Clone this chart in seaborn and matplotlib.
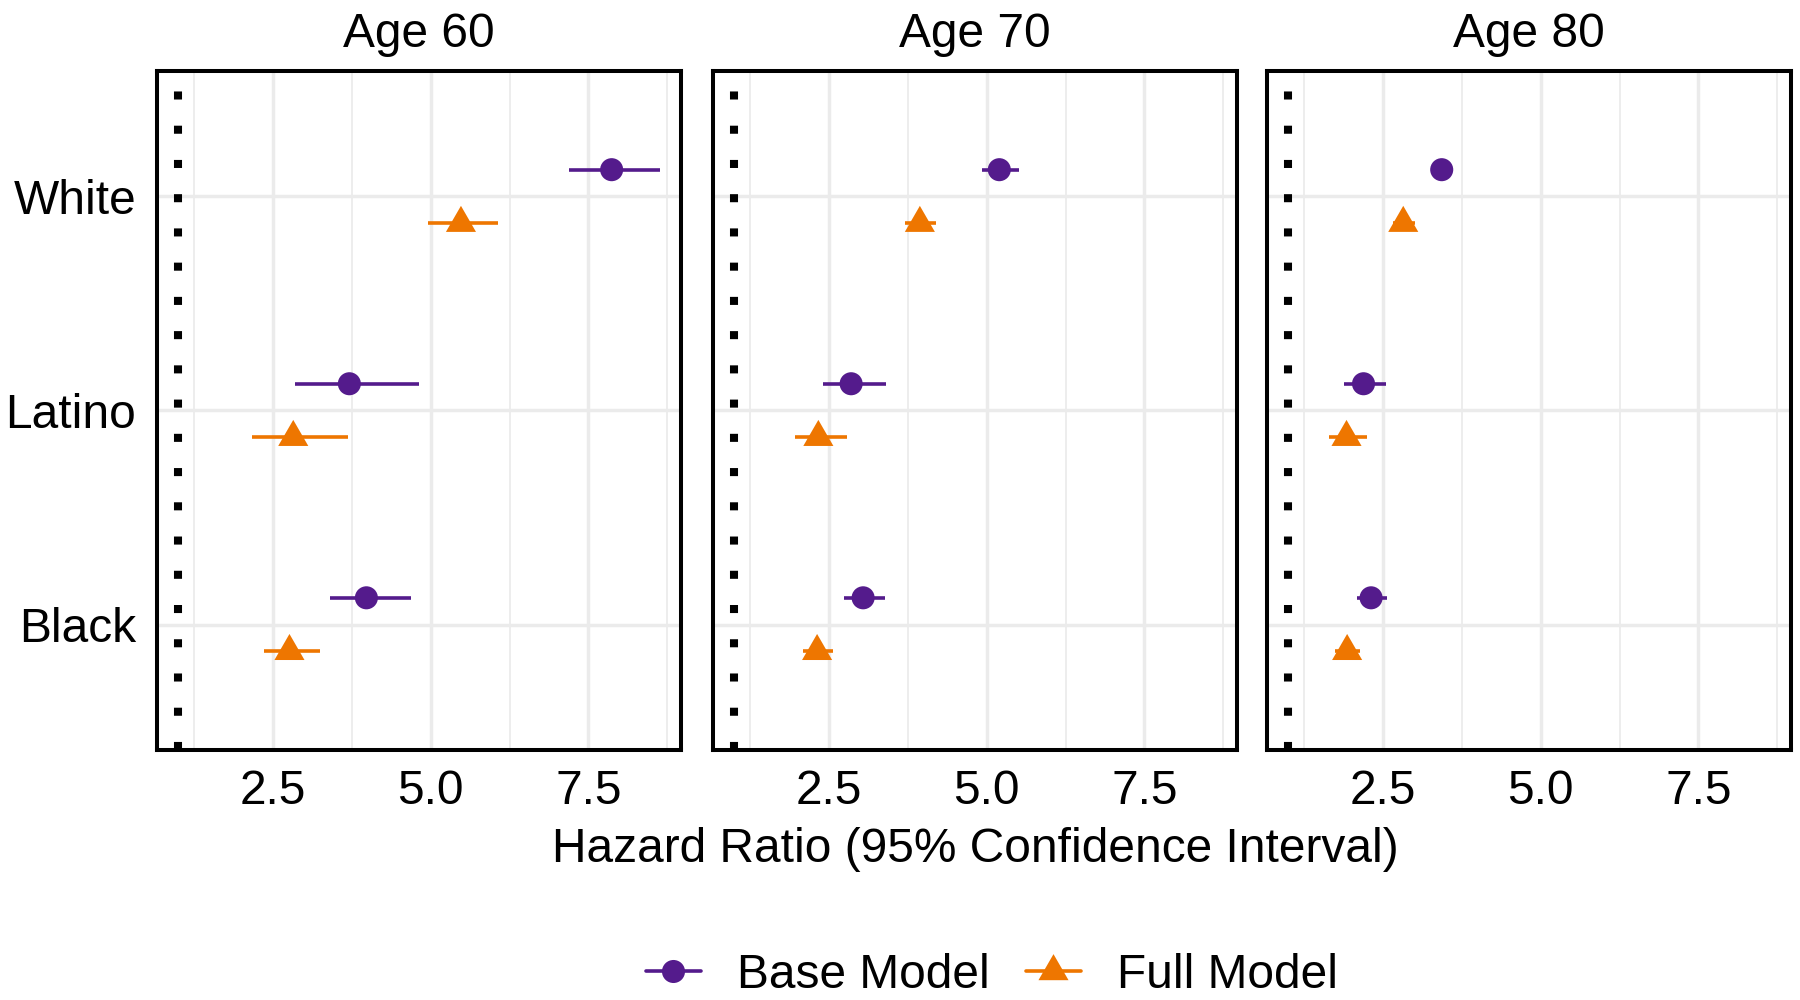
import numpy as np
import pandas as pd
import matplotlib
matplotlib.use("Agg")
import matplotlib.pyplot as plt
from matplotlib.lines import Line2D
from matplotlib.markers import MarkerStyle
from matplotlib.ticker import FixedLocator
import seaborn as sns

# ---------------- data ----------------
panels = ["Age 60", "Age 70", "Age 80"]
groups = ["White", "Latino", "Black"]
models = ["Base Model", "Full Model"]

base_hr_60 = [7.87, 3.71, 3.98]
base_lo_60 = [7.19, 2.85, 3.41]
base_hi_60 = [8.64, 4.82, 4.68]
full_hr_60 = [5.48, 2.82, 2.76]
full_lo_60 = [4.96, 2.16, 2.35]
full_hi_60 = [6.06, 3.69, 3.24]

base_hr_70 = [5.20, 2.85, 3.04]
base_lo_70 = [4.92, 2.40, 2.74]
base_hi_70 = [5.52, 3.40, 3.38]
full_hr_70 = [3.94, 2.33, 2.31]
full_lo_70 = [3.70, 1.96, 2.08]
full_hi_70 = [4.20, 2.79, 2.57]

base_hr_80 = [3.43, 2.19, 2.31]
base_lo_80 = [3.30, 1.88, 2.09]
base_hi_80 = [3.56, 2.55, 2.56]
full_hr_80 = [2.82, 1.92, 1.93]
full_lo_80 = [2.65, 1.65, 1.73]
full_hi_80 = [3.00, 2.24, 2.14]

x_major = [2.5, 5.0, 7.5]
x_minor = [1.25, 3.75, 6.25, 8.75]
x_labels = ["2.5", "5.0", "7.5"]
ref_line = 1.0

# build long table
rows = []
tables = {
    "Age 60": (base_hr_60, base_lo_60, base_hi_60, full_hr_60, full_lo_60, full_hi_60),
    "Age 70": (base_hr_70, base_lo_70, base_hi_70, full_hr_70, full_lo_70, full_hi_70),
    "Age 80": (base_hr_80, base_lo_80, base_hi_80, full_hr_80, full_lo_80, full_hi_80),
}
for p in panels:
    bh, bl, bu, fh, fl, fu = tables[p]
    for i, g in enumerate(groups):
        rows.append(dict(panel=p, group=g, model="Base Model", hr=bh[i], lo=bl[i], hi=bu[i]))
        rows.append(dict(panel=p, group=g, model="Full Model", hr=fh[i], lo=fl[i], hi=fu[i]))
df = pd.DataFrame(rows)

# ---------------- style ----------------
sns.set_theme(style="white")
plt.rcParams["font.family"] = ["Liberation Sans", "DejaVu Sans"]
plt.rcParams["text.color"] = "black"

PURPLE = "#541B8C"
ORANGE = "#EE7600"
colors = {"Base Model": PURPLE, "Full Model": ORANGE}
tri_verts = [(0.0, 0.577), (-0.5, -0.289), (0.5, -0.289), (0.0, 0.577)]
TRI = MarkerStyle(tri_verts)
markers = {"Base Model": "o", "Full Model": TRI}
sizes = {"Base Model": 16.6 ** 2, "Full Model": 25.0 ** 2}
offsets = {"Base Model": 0.125, "Full Model": -0.125}
group_pos = {"White": 3, "Latino": 2, "Black": 1}

df["ypos"] = df["group"].map(group_pos) + df["model"].map(offsets)

FS = 34.5
fig = plt.figure(figsize=(18, 10), dpi=100)
lefts = [157, 713, 1267]
pw = 524
bottom = 1 - 750 / 1000
height = (750 - 71) / 1000

axes = []
for k, p in enumerate(panels):
    ax = fig.add_axes([lefts[k] / 1800, bottom, pw / 1800, height])
    axes.append(ax)
    sub = df[df["panel"] == p]

    ax.set_xlim(0.659, 8.97)
    ax.set_ylim(0.414, 3.586)
    ax.xaxis.set_major_locator(FixedLocator(x_major))
    ax.xaxis.set_minor_locator(FixedLocator(x_minor))
    ax.set_xticklabels(x_labels)
    ax.set_yticks([group_pos[g] for g in groups])
    if k == 0:
        ax.set_yticklabels(groups)
    else:
        ax.set_yticklabels([])
    ax.grid(True, which="major", color="#EBEBEB", lw=2.5, zorder=0)
    ax.grid(True, which="minor", axis="x", color="#EBEBEB", lw=1.25, zorder=0)
    ax.set_axisbelow(True)
    ax.tick_params(axis="both", which="both", length=0, labelsize=FS, colors="black")
    ax.tick_params(axis="x", pad=14)
    ax.tick_params(axis="y", pad=15)

    ax.axvline(ref_line, color="black", lw=5.8, linestyle=(0, (1, 3.25)),
               dash_capstyle="butt", zorder=2)

    for m in models:
        sm = sub[sub["model"] == m]
        ax.hlines(sm["ypos"], sm["lo"], sm["hi"], color=colors[m], lw=2.6, zorder=3)
        sns.scatterplot(data=sm, x="hr", y="ypos", color=colors[m], marker=markers[m],
                        s=sizes[m], edgecolor="none", linewidth=0, ax=ax,
                        legend=False, zorder=4)

    ax.set_xlabel("")
    ax.set_ylabel("")
    ax.set_title(p, fontsize=FS, pad=17, color="black")
    for sp in ax.spines.values():
        sp.set_visible(True)
        sp.set_color("black")
        sp.set_linewidth(2.9)

axes[1].set_xlabel("Hazard Ratio (95% Confidence Interval)", fontsize=FS, labelpad=9,
                   color="black")

handles = [
    Line2D([], [], color=PURPLE, lw=2.6, marker="o", ms=16.6, markeredgewidth=0),
    Line2D([], [], color=ORANGE, lw=2.6, marker=TRI, ms=25, markeredgewidth=0),
]
fig.legend(handles, models, loc="center", bbox_to_anchor=(0.551, 0.025), ncol=2,
           frameon=False, fontsize=FS, handlelength=1.15, handletextpad=0.75,
           columnspacing=0.75, borderaxespad=0, labelcolor="black")

fig.savefig("out.png", dpi=100)
